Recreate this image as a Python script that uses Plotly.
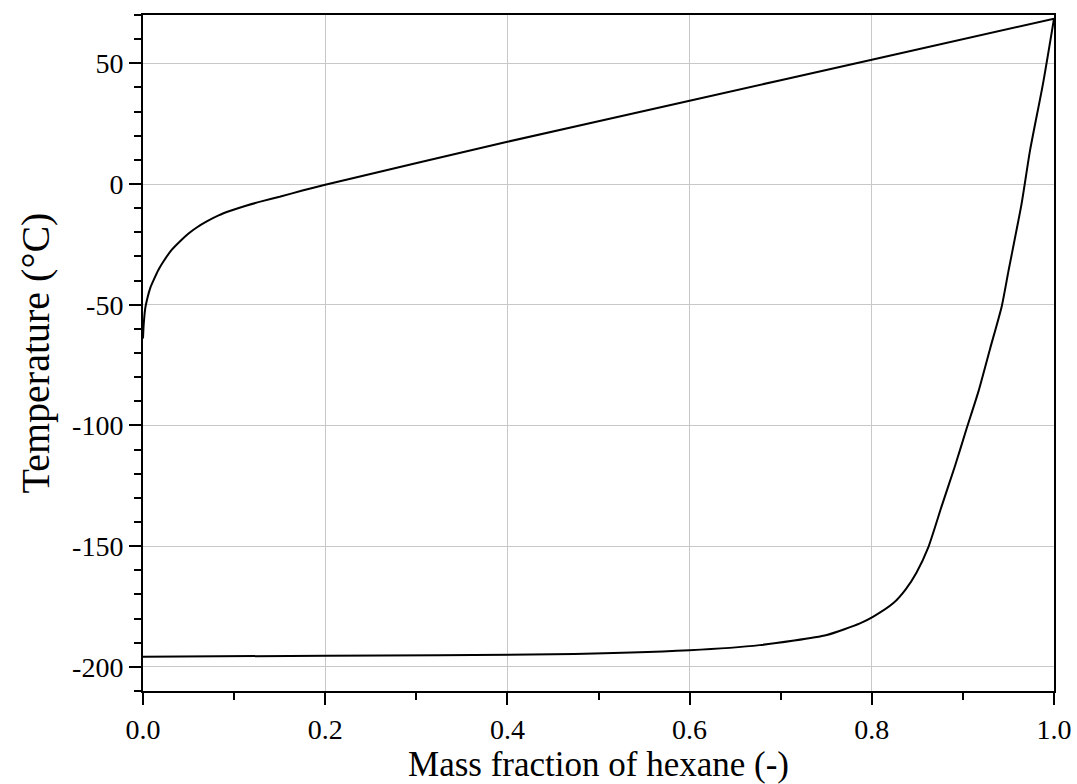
import plotly.graph_objects as go

# Dew (upper) curve
dew_x = [0.0, 0.0007, 0.0025, 0.005, 0.008, 0.012, 0.017, 0.0226, 0.031, 0.041, 0.05,
         0.059, 0.07, 0.083, 0.096, 0.113, 0.132, 0.15, 0.175, 0.2, 0.4, 0.6, 0.8, 1.0]
dew_y = [-64, -58.5, -51.4, -47, -43, -39.5, -35.5, -32, -27.5, -23.6, -20.5,
         -18, -15.5, -13, -11.1, -9, -7, -5.3, -2.7, -0.3, 17.5, 34.5, 51.5, 68.5]

# Bubble (lower) curve
bub_x = [0.0, 0.2, 0.45, 0.6, 0.677, 0.7506, 0.787, 0.8017, 0.8237, 0.837, 0.849, 0.862,
         0.8768, 0.8914, 0.904, 0.917, 0.930, 0.9426, 0.950, 0.9645, 0.9737, 0.988, 1.0]
bub_y = [-195.8, -195.4, -194.8, -193.1, -191, -186.8, -182, -179.2, -173.6, -168, -161, -150.5,
         -133.3, -116.7, -101.4, -86, -68, -50.7, -36.1, -8, 13.9, 41.7, 68.5]

x_ticks = [0.0, 0.2, 0.4, 0.6, 0.8, 1.0]
x_labels = ["0.0", "0.2", "0.4", "0.6", "0.8", "1.0"]
y_ticks = [50, 0, -50, -100, -150, -200]
y_labels = ["50", "0", "-50", "-100", "-150", "-200"]

FONT = "Liberation Serif, Times New Roman, serif"

fig = go.Figure()
fig.add_trace(go.Scatter(x=dew_x, y=dew_y, mode="lines",
                         line=dict(color="black", width=2, shape="spline", smoothing=0.6),
                         showlegend=False))
fig.add_trace(go.Scatter(x=bub_x, y=bub_y, mode="lines",
                         line=dict(color="black", width=2, shape="spline", smoothing=0.6),
                         showlegend=False))

fig.update_layout(
    width=1077, height=784,
    margin=dict(l=143, r=23, t=15, b=93),
    paper_bgcolor="white", plot_bgcolor="white",
    font=dict(family=FONT, color="black", size=28),
)
fig.update_xaxes(
    range=[0, 1], tickvals=x_ticks, ticktext=x_labels, automargin=False,
    showline=True, linecolor="black", linewidth=2, mirror=True,
    ticks="outside", ticklen=12, tickwidth=2, tickcolor="black",
    showgrid=True, gridcolor="#c8c8c8", gridwidth=1,
    zeroline=False,
    minor=dict(dtick=0.1, ticks="outside", ticklen=7, tickwidth=2, tickcolor="black", showgrid=False),
    tickfont=dict(size=28, family=FONT),
    title=dict(text="Mass fraction of hexane (-)", font=dict(size=35, family=FONT), standoff=8),
)
fig.update_yaxes(
    range=[-210, 70], tickvals=y_ticks, ticktext=y_labels, automargin=False,
    showline=True, linecolor="black", linewidth=2, mirror=True,
    ticks="outside", ticklen=12, tickwidth=2, tickcolor="black",
    showgrid=True, gridcolor="#c8c8c8", gridwidth=1,
    zeroline=False,
    minor=dict(dtick=10, ticks="outside", ticklen=7, tickwidth=2, tickcolor="black", showgrid=False),
    tickfont=dict(size=28, family=FONT),
    title=dict(text="Temperature (°C)", font=dict(size=40, family=FONT), standoff=10),
)

fig.write_html("out.html")
